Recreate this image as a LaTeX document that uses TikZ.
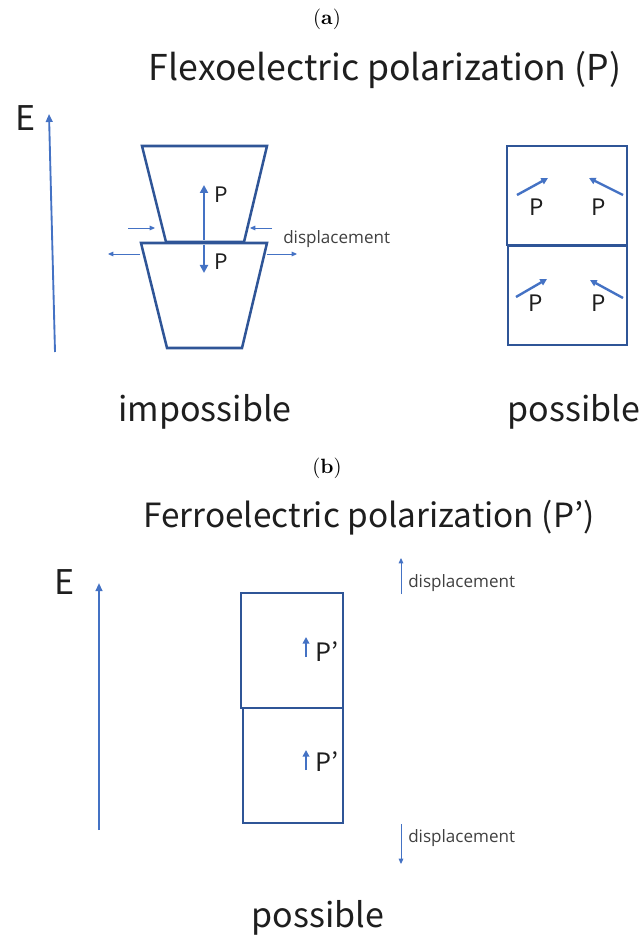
\documentclass[tikz,border=0pt]{standalone}
\usepackage{fontspec}
\newfontfamily\jpfont{Noto Sans CJK JP}
\newfontfamily\smallfont{Open Sans}
\usetikzlibrary{arrows.meta, positioning}
\definecolor{cellblue}{RGB}{47,85,151}
\definecolor{arrowblue}{RGB}{68,114,196}
\definecolor{txtgray}{RGB}{64,64,64}
\definecolor{txtdark}{RGB}{30,30,30}

\begin{document}
\begin{tikzpicture}[
    x=0.75pt, y=-0.75pt,
    cell/.style={draw=cellblue, line width=1.9pt, line join=miter},
    efield/.style={-{Triangle[length=6pt, width=5pt]}, line width=1.4pt, arrowblue},
    parrow/.style={-{Triangle[length=6pt, width=6pt]}, line width=2.2pt, arrowblue},
    pparrow/.style={-{Triangle[length=5pt, width=5pt]}, line width=1.8pt, arrowblue},
    disp/.style={-{Triangle[length=4pt, width=3.5pt]}, line width=0.7pt, arrowblue},
    panellabel/.style={inner sep=0pt, scale=1.55},
    title/.style={font=\jpfont\fontsize{25}{30}\selectfont, text=txtdark, inner sep=0pt},
    bigtxt/.style={font=\jpfont\fontsize{25.5}{30}\selectfont, text=txtdark, inner sep=0pt},
    plabel/.style={font=\jpfont\fontsize{16}{18}\selectfont, text=txtdark, inner sep=0pt},
    qlabel/.style={font=\jpfont\fontsize{19}{22}\selectfont, text=txtdark, inner sep=0pt, anchor=west},
    displabel/.style={font=\smallfont\fontsize{12.8}{15}\selectfont, text=txtgray, inner sep=0pt, anchor=west},
]
    \useasboundingbox (0,0) rectangle (642,937);

    % (a) flexoelectric
    \node[panellabel] (lbla) at (327,19) {(\textbf{a})};
    \node[title, font=\jpfont\fontsize{26.7}{30}\selectfont] (ttla) at (385,70) {Flexoelectric polarization (P)};
    \node[bigtxt] (ea) at (26,118) {E};
    \coordinate (ea0) at (55,352);
    \coordinate (ea1) at (49,114);
    \draw[efield] (ea0) -- (ea1);

    \draw[cell] (142,146) -- (267,146) -- (244,242) -- (166,242) -- cycle;
    \draw[cell] (141,243) -- (267,243) -- (242,348) -- (167,348) -- cycle;
    \coordinate (pu0) at (204,240);
    \coordinate (pu1) at (204,185);
    \coordinate (pd0) at (204,245);
    \coordinate (pd1) at (204,273);
    \draw[parrow] (pu0) -- (pu1);
    \draw[parrow] (pd0) -- (pd1);
    \node[plabel, anchor=west] (pup) at (214,195) {P};
    \node[plabel, anchor=west] (pdn) at (214,262) {P};

    \coordinate (inl0) at (128,228);  \coordinate (inl1) at (155,228);
    \coordinate (inr0) at (272,228);  \coordinate (inr1) at (250,228);
    \coordinate (outl0) at (140,254); \coordinate (outl1) at (108,254);
    \coordinate (outr0) at (267,254); \coordinate (outr1) at (297,254);
    \draw[disp] (inl0) -- (inl1);
    \draw[disp] (inr0) -- (inr1);
    \draw[disp] (outl0) -- (outl1);
    \draw[disp] (outr0) -- (outr1);
    \node[displabel] (dispa) at (283,239) {displacement};

    \draw[cell] (507,146) rectangle (627,245);
    \draw[cell] (508,246) rectangle (627,345);
    \coordinate (a1s) at (517,195); \coordinate (a1e) at (548,178);
    \coordinate (a2s) at (623,195); \coordinate (a2e) at (589,178);
    \coordinate (a3s) at (516,297); \coordinate (a3e) at (547,279);
    \coordinate (a4s) at (623,298); \coordinate (a4e) at (590,280);
    \foreach \s/\e in {a1s/a1e, a2s/a2e, a3s/a3e, a4s/a4e}
        \draw[pparrow] (\s) -- (\e);
    \node[plabel, font=\jpfont\fontsize{17}{20}\selectfont] (p1) at (537,207) {P};
    \node[plabel, font=\jpfont\fontsize{17}{20}\selectfont] (p2) at (599,207) {P};
    \node[plabel, font=\jpfont\fontsize{17}{20}\selectfont] (p3) at (536,303) {P};
    \node[plabel, font=\jpfont\fontsize{17}{20}\selectfont] (p4) at (599,303) {P};

    \node[bigtxt] (imp) at (205,412) {impossible};
    \node[bigtxt] (posa) at (574,412) {possible};

    % (b) ferroelectric
    \node[panellabel] (lblb) at (327,468) {(\textbf{b})};
    \node[title] (ttlb) at (369,518) {Ferroelectric polarization (P’)};
    \node[bigtxt] (eb) at (65,582) {E};
    \coordinate (eb0) at (99,830);
    \coordinate (eb1) at (99,583);
    \draw[efield] (eb0) -- (eb1);

    \draw[cell] (241,593) rectangle (343,708);
    \draw[cell] (243,708) rectangle (343,823);
    \coordinate (q1s) at (306,657); \coordinate (q1e) at (306,637);
    \coordinate (q2s) at (306,770); \coordinate (q2e) at (306,750);
    \draw[pparrow] (q1s) -- (q1e);
    \draw[pparrow] (q2s) -- (q2e);
    \node[qlabel] (pp1) at (315,652) {P’};
    \node[qlabel] (pp2) at (315,762) {P’};

    \coordinate (du0) at (401,594); \coordinate (du1) at (401,558);
    \coordinate (dd0) at (401,824); \coordinate (dd1) at (401,864);
    \draw[disp] (du0) -- (du1);
    \draw[disp] (dd0) -- (dd1);
    \node[displabel] (dispu) at (408,583) {displacement};
    \node[displabel] (dispd) at (408,838) {displacement};

    \node[bigtxt] (posb) at (318,918) {possible};
\end{tikzpicture}
\end{document}
